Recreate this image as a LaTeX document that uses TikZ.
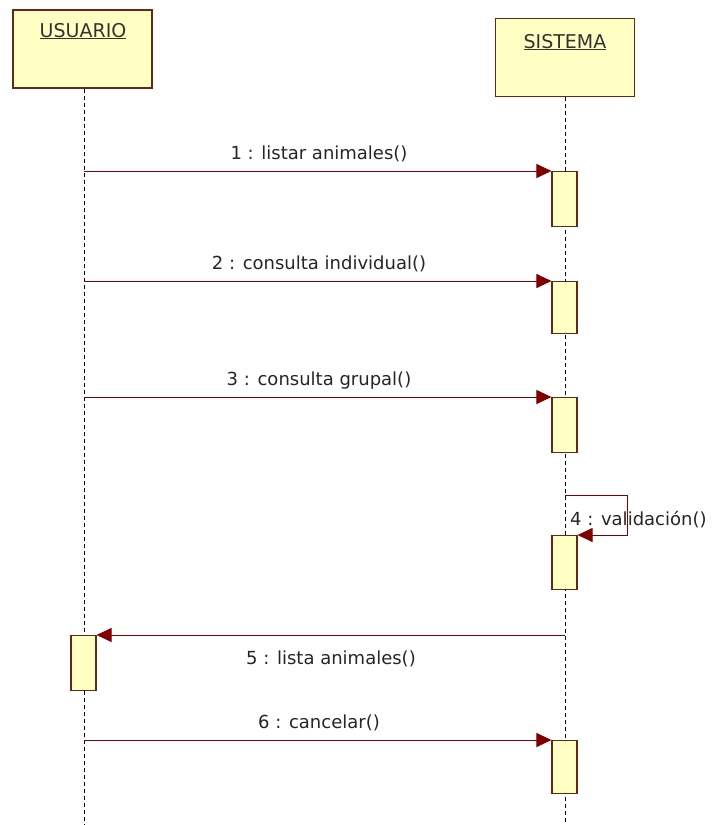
\documentclass[tikz,border=0pt]{standalone}
\usepackage{fontspec}
\setmainfont{DejaVu Sans}
\usetikzlibrary{arrows.meta}
\definecolor{boxfill}{RGB}{255,255,196}
\definecolor{boxedge}{RGB}{100,40,20}
\definecolor{msgcol}{RGB}{128,0,0}
\tikzset{
  head/.style={draw=boxedge, line width=1.3pt, fill=boxfill, minimum width=139pt, minimum height=78pt, inner sep=0pt},
  actbox/.style={draw=boxedge, line width=1.1pt, fill=boxfill, minimum width=25pt, inner sep=0pt, anchor=north},
  lifeline/.style={black, line width=1pt, dash pattern=on 4pt off 3pt},
  msg/.style={msgcol, line width=1pt, -{Triangle[length=15pt,width=14pt]}},
  msglabel/.style={font=\fontsize{18}{21}\selectfont, text=black!85, inner sep=0pt, anchor=base},
  headlabel/.style={font=\fontsize{19}{22}\selectfont, text=black!80, inner sep=0pt, anchor=base}
}
\begin{document}
\begin{tikzpicture}[x=1pt,y=-1pt]
\useasboundingbox[fill=white] (0,0) rectangle (718,825);

% lifeline heads
\node[head] (usuario) at (82.5,49) {};
\node[headlabel] at (83,37) {\underline{USUARIO}};
\node[head] (sistema) at (565,57.5) {};
\node[headlabel] at (565,48) {\underline{SISTEMA}};

% lifeline ends
\coordinate (uend) at (84,825);
\coordinate (send) at (565,825);
\draw[lifeline] (usuario.south -| uend) -- (uend);
\draw[lifeline] (sistema.south -| send) -- (send);

% activation boxes
\node[actbox, minimum height=55pt] (a1) at (564.5,171) {};
\node[actbox, minimum height=52pt] (a2) at (564.5,281) {};
\node[actbox, minimum height=55pt] (a3) at (564.5,397) {};
\node[actbox, minimum height=54pt] (a4) at (564.5,535) {};
\node[actbox, minimum height=55pt] (a5) at (83.5,635) {};
\node[actbox, minimum height=53pt] (a6) at (564.5,740) {};

% messages from USUARIO
\coordinate (u1) at (84,171);
\coordinate (u2) at (84,281);
\coordinate (u3) at (84,397);
\coordinate (u6) at (84,740);
\draw[msg] (u1) -- (a1.north west);
\draw[msg] (u2) -- (a2.north west);
\draw[msg] (u3) -- (a3.north west);
\draw[msg] (u6) -- (a6.north west);
\node[msglabel] at (319,159) {1 : listar animales()};
\node[msglabel] at (319,269) {2 : consulta individual()};
\node[msglabel] at (319,385) {3 : consulta grupal()};
\node[msglabel] at (319,728) {6 : cancelar()};

% self message
\coordinate (s4a) at (565,495);
\coordinate (s4b) at (627,495);
\coordinate (s4c) at (627,535);
\draw[msg] (s4a) -- (s4b) -- (s4c) -- (a4.north east);
\node[msglabel, anchor=base west] at (570,525) {4 : validación()};

% return message
\coordinate (s5) at (565,635);
\draw[msg] (s5) -- (a5.north east);
\node[msglabel] at (331,664) {5 : lista animales()};
\end{tikzpicture}
\end{document}
